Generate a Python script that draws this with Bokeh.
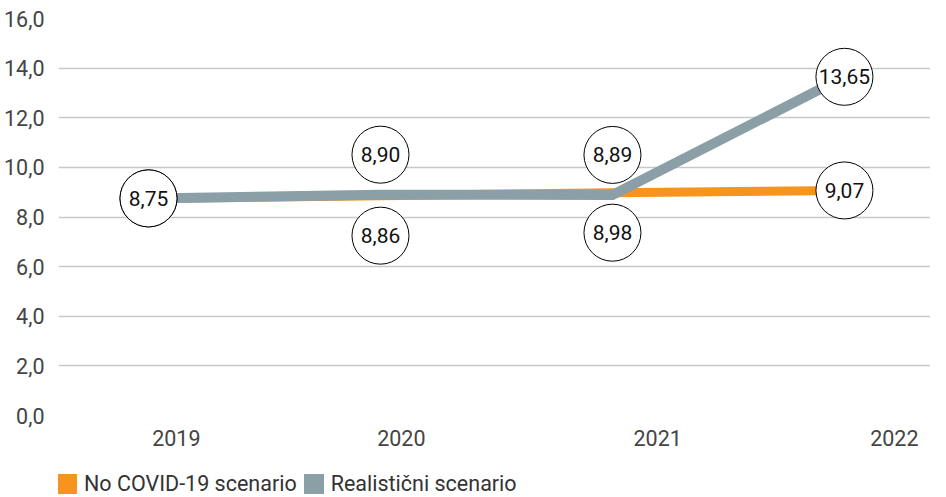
from bokeh.plotting import figure
from bokeh.layouts import column
from bokeh.models import Range1d, FixedTicker, Legend, LegendItem, ColumnDataSource
from bokeh.core.properties import value
from bokeh.embed import file_html
from bokeh.resources import INLINE

# ---- data ----
years = ["2019", "2020", "2021", "2022"]
no_covid = [8.75, 8.86, 8.98, 9.07]
realistic = [8.75, 8.90, 8.89, 13.65]
y_ticks = [0, 2, 4, 6, 8, 10, 12, 14, 16]
series_names = ["No COVID-19 scenario", "Realistični scenario"]

# label placement relative to the line point
no_covid_place = ["center", "below", "below", "center"]
realistic_place = ["center", "above", "above", "center"]

ORANGE = "#F7941D"
GREY = "#8A9FA6"
FONT = "Roboto"

x = list(range(len(years)))
# tick label positions (the reference labels sit slightly right of the points)
year_label_pos = [0.12, 1.09, 2.195, 3.215]

p = figure(width=930, height=466, output_backend="svg", toolbar_location=None,
           x_range=Range1d(-0.388, 3.371), y_range=Range1d(0, 16),
           min_border_left=58, min_border_right=0, min_border_top=18,
           min_border_bottom=51)
p.outline_line_color = None
p.background_fill_color = "white"
p.xgrid.visible = False
p.ygrid.grid_line_color = "#c8c8c8"
p.ygrid.grid_line_width = 1.5

p.yaxis.ticker = FixedTicker(ticks=y_ticks)
p.yaxis.major_label_overrides = {t: f"{t:.1f}".replace(".", ",") for t in y_ticks}
p.xaxis.ticker = FixedTicker(ticks=year_label_pos)
p.xaxis.major_label_overrides = {pos: yr for pos, yr in zip(year_label_pos, years)}
for ax in (p.xaxis, p.yaxis):
    ax.axis_line_color = None
    ax.major_tick_line_color = None
    ax.minor_tick_line_color = None
    ax.major_tick_out = 0
    ax.major_tick_in = 0
    ax.minor_tick_out = 0
    ax.major_label_text_font = FONT
    ax.major_label_text_font_size = "21.5px"
    ax.major_label_text_color = "#444444"
p.yaxis.major_label_standoff = 14
p.xaxis.major_label_standoff = 14

# lines
p.line(x, no_covid, line_color=ORANGE, line_width=9)
p.line(x, realistic, line_color=GREY, line_width=10, line_join="miter")

# labels in circles
px_per_unit = 397 / 16.0
dy = {"center": 0.0, "above": 40 / px_per_unit, "below": -40 / px_per_unit}

def label_source(vals, places):
    return ColumnDataSource(dict(
        x=x,
        y=[v + dy[pl] for v, pl in zip(vals, places)],
        t=[f"{v:.2f}".replace(".", ",") for v in vals],
    ))

for vals, places in ((no_covid, no_covid_place), (realistic, realistic_place)):
    src = label_source(vals, places)
    p.scatter("x", "y", source=src, marker="circle", size=57,
              fill_color="white", line_color="black", line_width=1)
    p.text("x", "y", text="t", source=src, text_font=value(FONT),
           text_font_size="21px", text_align="center", text_baseline="middle",
           text_color="#111111")

# ---- legend strip (separate small figure, frame aligned with the chart's) ----
lg = figure(width=930, height=30, output_backend="svg", toolbar_location=None,
            x_range=Range1d(0, 1), y_range=Range1d(0, 1),
            x_axis_location=None, y_axis_location=None,
            min_border_left=0, min_border_right=0, min_border_top=0, min_border_bottom=0)
lg.grid.visible = False
lg.outline_line_color = None
# zero-area quads from the series data (outside the strip's ranges): swatch carriers only
sw_o = lg.quad(left=x, right=x, top=no_covid, bottom=no_covid, fill_color=ORANGE, line_color=None)
sw_g = lg.quad(left=x, right=x, top=realistic, bottom=realistic, fill_color=GREY, line_color=None)
legend = Legend(items=[LegendItem(label=series_names[0], renderers=[sw_o]),
                       LegendItem(label=series_names[1], renderers=[sw_g])],
                orientation="horizontal", glyph_width=25, glyph_height=25,
                label_standoff=5, spacing=4, padding=0, margin=0,
                border_line_color=None, background_fill_alpha=0,
                label_text_font=FONT, label_text_font_size="21.5px",
                label_text_color="#333333", location=(-4, 0))
lg.add_layout(legend)

open("out.html", "w").write(file_html(column(p, lg, spacing=0), INLINE))
